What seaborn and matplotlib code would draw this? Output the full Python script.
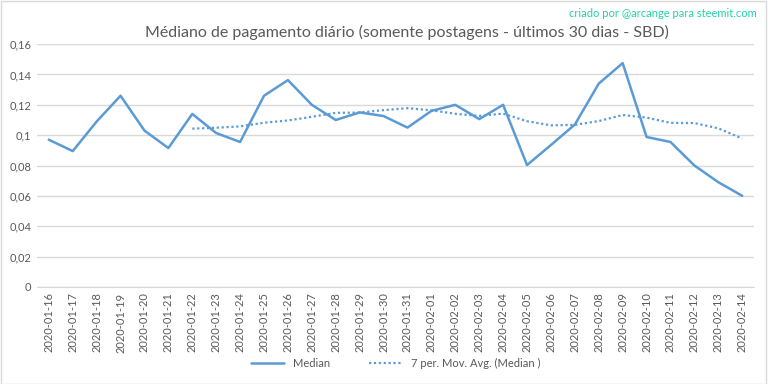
import matplotlib.pyplot as plt
import matplotlib.patches as mpatches
import seaborn as sns
import pandas as pd

# values
dates = pd.date_range("2020-01-16", "2020-02-14").strftime("%Y-%m-%d").tolist()
median = [0.097, 0.0895, 0.109, 0.126, 0.103, 0.0915, 0.114, 0.1014, 0.0955, 0.126,
          0.1363, 0.120, 0.110, 0.115, 0.1126, 0.105, 0.116, 0.120, 0.1106, 0.120,
          0.0803, 0.0935, 0.107, 0.134, 0.1475, 0.0988, 0.0955, 0.080, 0.069, 0.060]
mov_avg = [None, None, None, None, None, None, 0.1043, 0.1049, 0.1058, 0.1082,
           0.1097, 0.1121, 0.1147, 0.1149, 0.1165, 0.1178, 0.1164, 0.1141, 0.1127, 0.1142,
           0.1092, 0.1065, 0.1068, 0.1093, 0.1133, 0.1116, 0.1081, 0.1080, 0.1045, 0.0978]
y_ticks = [0, 0.02, 0.04, 0.06, 0.08, 0.10, 0.12, 0.14, 0.16]
y_labels = ["0", "0,02", "0,04", "0,06", "0,08", "0,1", "0,12", "0,14", "0,16"]

title = "Médiano de pagamento diário (somente postagens - últimos 30 dias - SBD)"
credit = "criado por @arcange para steemit.com"


def build_frame():
    df = pd.DataFrame({"date": dates, "median": median, "mov": mov_avg})
    df["pos"] = range(len(df))
    return df


def plot_chart(df):
    sns.set_style("white")
    plt.rcParams["font.family"] = ["Lato", "DejaVu Sans"]
    text_col = "#595959"
    blue = "#5b9bd5"

    fig = plt.figure(figsize=(7.68, 3.84), dpi=100)
    ax = fig.add_axes([0.048, 0.253, 0.934, 0.632])

    sns.lineplot(x="pos", y="median", data=df, ax=ax, color=blue, linewidth=1.8,
                 label="Median")
    sns.lineplot(x="pos", y="mov", data=df.dropna(), ax=ax, color=blue, linewidth=1.6,
                 linestyle=(0, (1, 1.2)), label="7 per. Mov. Avg. (Median )")

    ax.set_xlim(-0.5, len(dates) - 0.5)
    ax.set_ylim(0, 0.16)
    ax.set_yticks(y_ticks)
    ax.set_yticklabels(y_labels, color=text_col, fontsize=8)
    ax.set_xticks(df["pos"])
    ax.set_xticklabels(dates, rotation=90, color=text_col, fontsize=8)
    ax.tick_params(axis="both", length=0, pad=4)
    ax.yaxis.grid(True, color="#d9d9d9", linewidth=1)
    ax.set_axisbelow(True)
    for side in ["top", "right", "left"]:
        ax.spines[side].set_visible(False)
    ax.spines["bottom"].set_color("#d9d9d9")
    ax.set_xlabel("")
    ax.set_ylabel("")

    fig.text(0.53, 0.915, title, ha="center", va="center", fontsize=11.5, color=text_col)
    fig.text(0.985, 0.965, credit, ha="right", va="center", fontsize=8, color="#22d2aa")

    leg = ax.legend(loc="center", bbox_to_anchor=(0.5, -0.317), ncol=2, frameon=False,
                    fontsize=8, handlelength=3, columnspacing=3.5)
    for t in leg.get_texts():
        t.set_color(text_col)

    fig.patches.append(mpatches.Rectangle((0.001, 0.001), 0.997, 0.997, transform=fig.transFigure,
                                          fill=False, edgecolor="#d9d9d9", linewidth=1))
    fig.savefig("out.png", dpi=100)


if __name__ == "__main__":
    df = build_frame()
    plot_chart(df)
